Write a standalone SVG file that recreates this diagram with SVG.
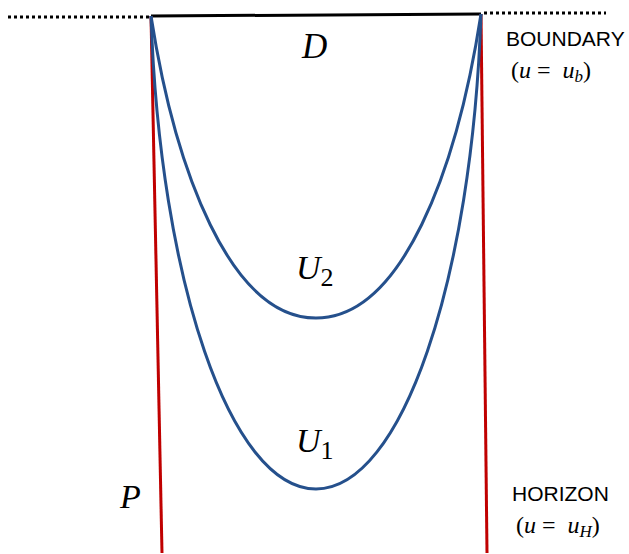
<svg xmlns="http://www.w3.org/2000/svg" width="629" height="554" viewBox="0 0 629 554">
<style>
.curve{fill:none;stroke:#25508C;stroke-width:3}
.red{fill:none;stroke:#C00000;stroke-width:3}
.dot{fill:none;stroke:#000;stroke-width:3;stroke-dasharray:3 3}
.math{font-family:"Liberation Serif","DejaVu Serif",serif;font-style:italic;fill:#000}
.num{font-family:"Liberation Serif","DejaVu Serif",serif;font-style:normal;fill:#000}
.lbl{font-family:"Liberation Sans",Arial,sans-serif;font-size:21px;fill:#000}
</style>
<rect width="629" height="554" fill="#fff"/>
<g id="connectors">
<line class="dot" x1="8" y1="17" x2="150" y2="17"/>
<line class="dot" x1="484" y1="13" x2="606" y2="13"/>
<line x1="151" y1="16" x2="481" y2="14" stroke="#000" stroke-width="3"/>
<line class="red" x1="151" y1="16" x2="162" y2="553"/>
<line class="red" x1="481" y1="14" x2="487" y2="553"/>
</g>
<g id="U2">
<path class="curve" d="M151,16 C175,170 230,318 316,318 C402,318 457,170 481,14"/>
<text class="math" x="296" y="279" font-size="34">U<tspan class="num" font-size="26" dy="7">2</tspan></text>
</g>
<g id="U1">
<path class="curve" d="M151,16 C160,280 230,489 316,489 C402,489 472,280 481,14"/>
<text class="math" x="296" y="452" font-size="34">U<tspan class="num" font-size="26" dy="7">1</tspan></text>
</g>
<g id="D">
<text class="math" x="302" y="58" font-size="35">D</text>
</g>
<g id="P">
<text class="math" x="120" y="508" font-size="34">P</text>
</g>
<g id="boundary">
<text class="lbl" x="506" y="46">BOUNDARY</text>
<text class="num" x="511" y="78" font-size="24" xml:space="preserve">(<tspan class="math">u</tspan> =  <tspan class="math">u</tspan><tspan class="math" font-size="17" dy="4">b</tspan><tspan dy="-4">)</tspan></text>
</g>
<g id="horizon">
<text class="lbl" x="512" y="501">HORIZON</text>
<text class="num" x="516" y="533" font-size="24" xml:space="preserve">(<tspan class="math">u</tspan> =  <tspan class="math">u</tspan><tspan class="math" font-size="17" dy="4">H</tspan><tspan dy="-4">)</tspan></text>
</g>
</svg>
